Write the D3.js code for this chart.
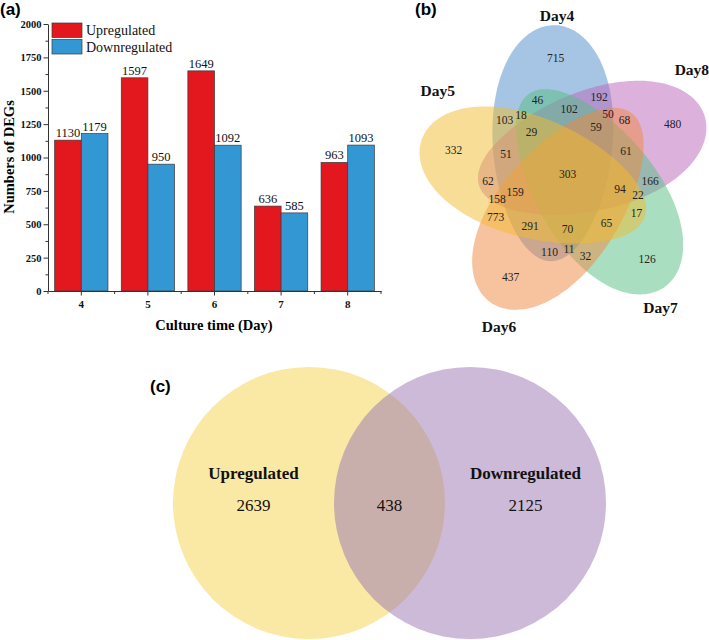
<!DOCTYPE html>
<html><head><meta charset="utf-8">
<script src="https://cdn.jsdelivr.net/npm/d3@7"></script>
<style>body{margin:0;background:#fff} svg{display:block}</style>
</head><body>
<svg id="chart" width="709" height="640"></svg>
<script>
// ---------------- Data ----------------
const days = ["4", "5", "6", "7", "8"];
const upregulated = [1130, 1597, 1649, 636, 963];
const downregulated = [1179, 950, 1092, 585, 1093];
const seriesNames = ["Upregulated", "Downregulated"];
const yTicks = [0, 250, 500, 750, 1000, 1250, 1500, 1750, 2000];

// five-set Venn: 1=Day4, 2=Day8, 3=Day7, 4=Day6, 5=Day5
const vennSetNames = ["Day4", "Day8", "Day7", "Day6", "Day5"];
const vennCombos = ["1", "2", "3", "4", "5",
  "12", "23", "34", "45", "15",
  "13", "24", "35", "14", "25",
  "123", "234", "345", "145", "125",
  "135", "124", "235", "134", "245",
  "1235", "1234", "2345", "1345", "1245",
  "12345"];
const vennCounts = [715, 480, 126, 437, 332,
  192, 166, 32, 773, 103,
  46, 68, 17, 110, 62,
  102, 61, 65, 291, 51,
  18, 50, 22, 11, 158,
  29, 59, 94, 70, 159,
  303];

// two-set Venn
const updownNames = ["Upregulated", "Downregulated"];
const updownCounts = [2639, 438, 2125]; // up only, both, down only

// ---------------- Setup ----------------
const svg = d3.select("#chart");
const serif = "'Liberation Serif','Times New Roman',serif";
const sans = "'Liberation Sans',Arial,sans-serif";

// ---------------- Panel (a) ----------------
const gA = svg.append("g");
const x0 = d3.scaleBand().domain(days).range([48, 381]).paddingInner(0.2).paddingOuter(0.1);
const x1 = d3.scaleBand().domain(seriesNames).range([0, x0.bandwidth()]);
const y = d3.scaleLinear().domain([0, 2000]).range([291, 24]);
const barColor = d3.scaleOrdinal().domain(seriesNames).range(["#e3171e", "#3397d3"]);

const rows = days.map((d, i) => ({ day: d, values: [
  { key: seriesNames[0], v: upregulated[i] },
  { key: seriesNames[1], v: downregulated[i] }] }));

const grp = gA.selectAll("g.day").data(rows).join("g")
  .attr("transform", d => `translate(${x0(d.day)},0)`);
grp.selectAll("rect").data(d => d.values).join("rect")
  .attr("x", d => x1(d.key)).attr("y", d => y(d.v))
  .attr("width", x1.bandwidth()).attr("height", d => y(0) - y(d.v))
  .attr("fill", d => barColor(d.key)).attr("stroke", "#3a3a3a").attr("stroke-width", 0.7);
grp.selectAll("text").data(d => d.values).join("text")
  .attr("x", d => x1(d.key) + x1.bandwidth() / 2).attr("y", d => y(d.v) - 3)
  .attr("text-anchor", "middle").attr("font-family", serif).attr("font-size", 12.5)
  .attr("fill", "#111").text(d => d.v);

// y axis minor ticks
const minorY = d3.range(125, 2000, 250);
gA.append("g").attr("transform", "translate(48,0)")
  .call(d3.axisLeft(y).tickValues(minorY).tickSize(2.5).tickFormat("").tickSizeOuter(0))
  .call(g => g.select(".domain").remove())
  .call(g => g.selectAll("line").attr("stroke", "#333"));
const yAxis = gA.append("g").attr("transform", "translate(48,0)")
  .call(d3.axisLeft(y).tickValues(yTicks).tickFormat(d3.format("d")).tickSize(4.5).tickPadding(2).tickSizeOuter(0));
yAxis.select(".domain").attr("stroke", "#333");
yAxis.selectAll("line").attr("stroke", "#333");
yAxis.selectAll("text").attr("font-family", serif).attr("font-weight", "bold").attr("font-size", 10.5).attr("fill", "#111");

// x axis
const xAxis = gA.append("g").attr("transform", "translate(0,291)")
  .call(d3.axisBottom(x0).tickSize(4.5).tickPadding(5).tickSizeOuter(0));
xAxis.select(".domain").attr("stroke", "#333");
xAxis.selectAll("line").attr("stroke", "#333");
xAxis.selectAll("text").attr("font-family", serif).attr("font-weight", "bold").attr("font-size", 11).attr("fill", "#111");
const bounds = d3.range(days.length + 1).map(i => x0.range()[0] + i * (x0.range()[1] - x0.range()[0]) / days.length);
gA.append("g").selectAll("line").data(bounds).join("line")
  .attr("x1", d => d).attr("x2", d => d).attr("y1", 291).attr("y2", 294)
  .attr("stroke", "#333");

// axis titles
gA.append("text").attr("x", 214).attr("y", 330).attr("text-anchor", "middle")
  .attr("font-family", serif).attr("font-weight", "bold").attr("font-size", 14.5).text("Culture time (Day)");
gA.append("text").attr("transform", "translate(14,157) rotate(-90)").attr("text-anchor", "middle")
  .attr("font-family", serif).attr("font-weight", "bold").attr("font-size", 14.5).text("Numbers of DEGs");

// legend
const leg = gA.append("g").attr("transform", "translate(52,23)");
seriesNames.forEach((s, i) => {
  leg.append("rect").attr("x", 0).attr("y", i * 16.5).attr("width", 30).attr("height", 14.5)
    .attr("fill", barColor(s)).attr("stroke", "#3a3a3a").attr("stroke-width", 0.7);
  leg.append("text").attr("x", 34).attr("y", i * 16.5 + 12).attr("font-family", serif)
    .attr("font-size", 14).attr("fill", "#111").text(s);
});
svg.append("text").attr("x", 0).attr("y", 15).attr("font-family", sans).attr("font-weight", "bold")
  .attr("font-size", 17).text("(a)");

// ---------------- Panel (b) ----------------
const gB = svg.append("g");
const VC = { x: 567, y: 174 }, VA = 118, VB = 60, VK = 0.12, VD = 34, VOFF = -25, VROT = 1;
const vennColors = ["#4d8bc9", "#b965b9", "#55bd81", "#ef873d", "#f1bb2d"];
const rad = Math.PI / 180;
const eggs = vennSetNames.map((name, i) => {
  const phi = i * 72;
  const off = (phi + VOFF) * rad, th = (phi + VROT) * rad;
  return { name, i, cx: VC.x + VD * Math.sin(off), cy: VC.y - VD * Math.cos(off),
           dx: Math.sin(th), dy: -Math.cos(th), nx: Math.cos(th), ny: Math.sin(th), phi };
});
function eggPts(e) {
  return d3.range(0, 360, 2).map(t => {
    const u = VA * Math.cos(t * rad), v = VB * Math.sin(t * rad) * (1 + VK * Math.cos(t * rad));
    return [e.cx + u * e.dx + v * e.nx, e.cy + u * e.dy + v * e.ny];
  });
}
function inside(e, px, py) {
  const qx = px - e.cx, qy = py - e.cy;
  const u = qx * e.dx + qy * e.dy, v = qx * e.nx + qy * e.ny;
  if (Math.abs(u) >= VA) return false;
  const r = u / VA;
  return Math.abs(v) < VB * Math.sqrt(1 - r * r) * (1 + VK * r);
}
const line = d3.line().curve(d3.curveCardinalClosed);
gB.selectAll("path.egg").data(eggs).join("path")
  .attr("d", d => line(eggPts(d))).attr("fill", (d, i) => vennColors[i]).attr("fill-opacity", 0.5);

// label positions: pole of inaccessibility of each region (grid + chamfer distance)
const gx0 = 395, gy0 = 10, gs = 1.5;
const GW = Math.ceil((709 - gx0) / gs), GH = Math.ceil((335 - gy0) / gs);
const mask = new Int16Array(GW * GH);
for (let j = 0; j < GH; j++) for (let i = 0; i < GW; i++) {
  let m = 0; const px = gx0 + i * gs, py = gy0 + j * gs;
  eggs.forEach((e, k) => { if (inside(e, px, py)) m |= (1 << k); });
  mask[j * GW + i] = m;
}
const dist = new Float32Array(GW * GH);
for (let j = 0; j < GH; j++) for (let i = 0; i < GW; i++) {
  const id = j * GW + i, m = mask[id];
  let b = (i === 0 || j === 0 || i === GW - 1 || j === GH - 1);
  if (!b) b = mask[id - 1] !== m || mask[id + 1] !== m || mask[id - GW] !== m || mask[id + GW] !== m;
  dist[id] = b ? 0 : 1e9;
}
const S2 = Math.SQRT2;
for (let j = 1; j < GH - 1; j++) for (let i = 1; i < GW - 1; i++) {
  const id = j * GW + i;
  dist[id] = Math.min(dist[id], dist[id - 1] + 1, dist[id - GW] + 1, dist[id - GW - 1] + S2, dist[id - GW + 1] + S2);
}
for (let j = GH - 2; j > 0; j--) for (let i = GW - 2; i > 0; i--) {
  const id = j * GW + i;
  dist[id] = Math.min(dist[id], dist[id + 1] + 1, dist[id + GW] + 1, dist[id + GW + 1] + S2, dist[id + GW - 1] + S2);
}
const best = {};
for (let id = 0; id < GW * GH; id++) {
  const m = mask[id]; if (!m) continue;
  if (!best[m] || dist[id] > best[m].d) best[m] = { d: dist[id], x: gx0 + (id % GW) * gs, y: gy0 + Math.floor(id / GW) * gs };
}
const regionData = vennCombos.map((c, k) => {
  const m = c.split("").reduce((a, ch) => a | (1 << (+ch - 1)), 0);
  return { m, n: vennCounts[k], p: best[m] };
}).filter(d => d.p);
gB.selectAll("text.cnt").data(regionData).join("text")
  .attr("x", d => d.p.x).attr("y", d => d.p.y).attr("dy", "0.35em").attr("text-anchor", "middle")
  .attr("font-family", serif).attr("font-size", 11.5).attr("fill", "#222").text(d => d.n);

// set name labels (placed in polar layout around the diagram centre)
const dayLabelAngle = [-3.6, 50, 145, 204, 303], dayLabelR = [159, 163, 163, 167, 154];
gB.selectAll("text.day").data(eggs).join("text")
  .attr("x", (d, i) => VC.x + dayLabelR[i] * Math.sin(dayLabelAngle[i] * rad))
  .attr("y", (d, i) => VC.y - dayLabelR[i] * Math.cos(dayLabelAngle[i] * rad))
  .attr("dy", "0.35em").attr("text-anchor", "middle")
  .attr("font-family", serif).attr("font-weight", "bold").attr("font-size", 15.5).attr("fill", "#111")
  .text(d => d.name);
svg.append("text").attr("x", 415).attr("y", 15).attr("font-family", sans).attr("font-weight", "bold")
  .attr("font-size", 17).text("(b)");

// ---------------- Panel (c) ----------------
const gC = svg.append("g");
const cy2 = 503, r2 = 136;
const cxs = d3.scalePoint().domain(updownNames).range([309, 470]);
const c2Colors = ["#f9e9a5", "#9975b1"];
const c2Opac = [1, 0.5];
gC.selectAll("ellipse").data(updownNames).join("ellipse")
  .attr("cx", d => cxs(d)).attr("cy", cy2).attr("rx", r2).attr("ry", r2)
  .attr("fill", (d, i) => c2Colors[i]).attr("fill-opacity", (d, i) => c2Opac[i]);
const lA = cxs(updownNames[0]) - r2, rA = cxs(updownNames[0]) + r2;
const lB = cxs(updownNames[1]) - r2, rB = cxs(updownNames[1]) + r2;
const regX = [(lA + lB) / 2, (lB + rA) / 2, (rA + rB) / 2];
gC.selectAll("text.cnt").data(updownCounts).join("text")
  .attr("x", (d, i) => regX[i]).attr("y", cy2 + 8).attr("text-anchor", "middle")
  .attr("font-family", serif).attr("font-size", 17).attr("fill", "#111").text(d => d);
gC.selectAll("text.nm").data(updownNames).join("text")
  .attr("x", (d, i) => regX[i * 2]).attr("y", cy2 - 24).attr("text-anchor", "middle")
  .attr("font-family", serif).attr("font-weight", "bold").attr("font-size", 17).attr("fill", "#111").text(d => d);
svg.append("text").attr("x", 150).attr("y", 392).attr("font-family", sans).attr("font-weight", "bold")
  .attr("font-size", 17).text("(c)");
</script>
</body></html>
